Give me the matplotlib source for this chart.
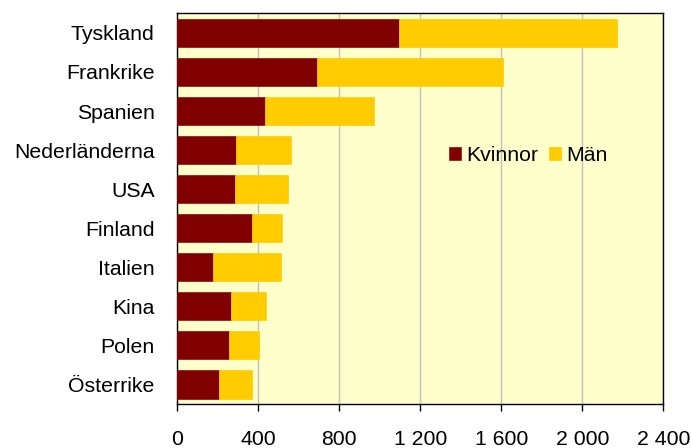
import matplotlib.pyplot as plt
import numpy as np

plt.rcParams['font.family'] = ['Liberation Sans', 'DejaVu Sans']

countries = ["Tyskland", "Frankrike", "Spanien", "Nederländerna", "USA",
             "Finland", "Italien", "Kina", "Polen", "Österrike"]
kvinnor = [1093, 693, 436, 291, 286, 370, 180, 267, 257, 207]
man = [1080, 915, 534, 270, 262, 149, 335, 173, 146, 165]
x_ticks = [0, 400, 800, 1200, 1600, 2000, 2400]
x_labels = ["0", "400", "800", "1 200", "1 600", "2 000", "2 400"]

fig = plt.figure(figsize=(6.91, 4.48), dpi=100)
ax = fig.add_axes([0.2561, 0.0982, 0.7040, 0.8720])
ax.set_facecolor('#FFFFCC')

y = np.arange(len(countries))
ax.barh(y, kvinnor, height=0.72, color='#800000', edgecolor='#8a1010',
        linewidth=0.5, label='Kvinnor', zorder=3)
ax.barh(y, man, left=kvinnor, height=0.72, color='#FFCC00',
        edgecolor='#FFCC00', linewidth=0.5, label='Män', zorder=3)

ax.set_ylim(len(countries) - 0.5, -0.5)
ax.set_yticks(y)
ax.set_yticklabels(countries, fontsize=15.3)
ax.tick_params(axis='y', length=0, pad=16)

ax.set_xlim(0, 2400)
ax.set_xticks(x_ticks)
ax.set_xticklabels(x_labels, fontsize=15.3)
ax.tick_params(axis='x', length=5, width=1, pad=13.5, direction='out')
ax.grid(axis='x', color='#c0c0c0', linewidth=1, zorder=0)

for s in ax.spines.values():
    s.set_color('black')
    s.set_linewidth(1)

ax.legend(loc='center', bbox_to_anchor=(0.722, 0.637), ncol=2, frameon=False,
          fontsize=15.3, handlelength=0.55, handleheight=0.55, handletextpad=0.25,
          columnspacing=0.5, borderpad=0)

fig.savefig('out.png', dpi=100)
